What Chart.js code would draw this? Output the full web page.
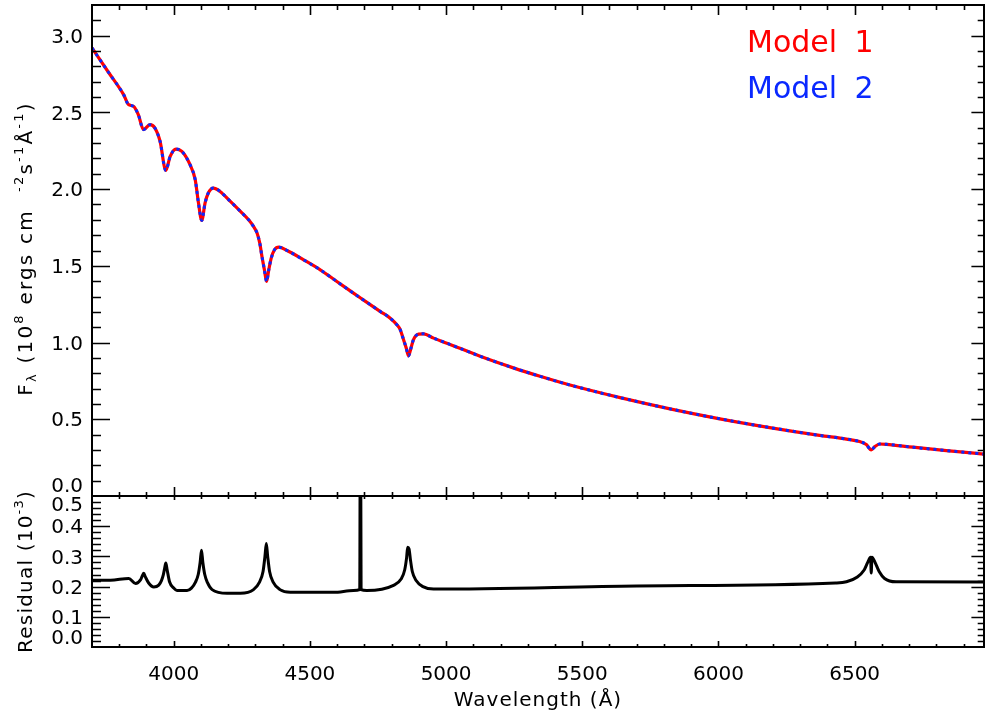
<!DOCTYPE html>
<html>
<head>
<meta charset="utf-8">
<script src="https://cdn.jsdelivr.net/npm/chart.js@4.4.0/dist/chart.umd.min.js"></script>
<style>
  html, body { margin: 0; padding: 0; background: #fff; }
  #wrap { position: relative; width: 985px; height: 719px; }
  #wrap canvas { position: absolute; left: 0; top: 0; }
</style>
</head>
<body>
<div id="wrap">
  <canvas id="residChart" width="985" height="719"></canvas>
  <canvas id="fluxChart" width="985" height="719"></canvas>
</div>
<script>
// wavelength grid (Angstrom) for the model spectra
const fluxWave = [
  3700, 3761, 3816, 3834, 3852, 3870, 3889, 3913, 3931, 3950,
  3971, 3987, 4008, 4030, 4060, 4079, 4091, 4103, 4115, 4127,
  4146, 4170, 4208, 4245, 4275, 4293, 4306, 4316, 4324, 4333,
  4341, 4349, 4358, 4370, 4386, 4416, 4477, 4538, 4599, 4660,
  4692, 4759, 4795, 4820, 4832, 4842, 4854, 4862, 4871, 4880,
  4899, 4917, 4954, 5003, 5125, 5247, 5345, 5455, 5639, 5822,
  6005, 6188, 6371, 6470, 6518, 6543, 6561, 6574, 6592, 6617,
  6714, 6837, 6975
];
// F_lambda, 10^8 ergs cm^-2 s^-1 A^-1
const model1Flux = [
  2.920, 2.760, 2.616, 2.551, 2.540, 2.486, 2.388, 2.420, 2.398, 2.311,
  2.122, 2.213, 2.261, 2.246, 2.159, 2.061, 1.909, 1.796, 1.909, 1.975,
  2.007, 1.985, 1.920, 1.855, 1.800, 1.757, 1.714, 1.648, 1.561, 1.474,
  1.398, 1.474, 1.550, 1.605, 1.622, 1.600, 1.539, 1.474, 1.398, 1.322,
  1.283, 1.202, 1.159, 1.115, 1.083, 1.029, 0.963, 0.913, 0.963, 1.018,
  1.055, 1.057, 1.029, 0.996, 0.911, 0.835, 0.780, 0.723, 0.641, 0.568,
  0.503, 0.446, 0.395, 0.371, 0.355, 0.335, 0.300, 0.322, 0.339, 0.337,
  0.318, 0.296, 0.273
];
const model2Flux = [
  2.920, 2.760, 2.616, 2.551, 2.540, 2.486, 2.388, 2.420, 2.398, 2.311,
  2.122, 2.213, 2.261, 2.246, 2.159, 2.061, 1.909, 1.796, 1.909, 1.975,
  2.007, 1.985, 1.920, 1.855, 1.800, 1.757, 1.714, 1.648, 1.561, 1.474,
  1.398, 1.474, 1.550, 1.605, 1.622, 1.600, 1.539, 1.474, 1.398, 1.322,
  1.283, 1.202, 1.159, 1.115, 1.083, 1.029, 0.963, 0.913, 0.963, 1.018,
  1.055, 1.057, 1.029, 0.996, 0.911, 0.835, 0.780, 0.723, 0.641, 0.568,
  0.503, 0.446, 0.395, 0.371, 0.355, 0.335, 0.300, 0.322, 0.339, 0.337,
  0.318, 0.296, 0.273
];

// residual panel (10^-3)
const residWave = [
  3700, 3768, 3835, 3860, 3878, 3885, 3890, 3896, 3908, 3927,
  3945, 3955, 3962, 3967, 3971, 3976, 3985, 4000, 4012, 4049,
  4065, 4080, 4090, 4097, 4102, 4107, 4114, 4124, 4141, 4196,
  4245, 4293, 4315, 4328, 4335, 4340, 4345, 4352, 4365, 4390,
  4428, 4587, 4660, 4683, 4685.5, 4688, 4709, 4807, 4835, 4848,
  4855, 4859, 4864, 4869, 4876, 4890, 4915, 4954, 5700, 6430,
  6470, 6510, 6535, 6548, 6558.5, 6561, 6563.5, 6575,
  6590, 6610, 6652, 6975
];
const residual = [
  0.221, 0.221, 0.227, 0.210, 0.222, 0.236, 0.244, 0.232, 0.212, 0.199,
  0.205, 0.220, 0.240, 0.262, 0.278, 0.255, 0.215, 0.195, 0.187, 0.187,
  0.195, 0.215, 0.240, 0.280, 0.320, 0.280, 0.240, 0.213, 0.190, 0.178,
  0.178, 0.190, 0.215, 0.250, 0.300, 0.343, 0.300, 0.250, 0.215, 0.190,
  0.181, 0.181, 0.187, 0.190, 0.950, 0.190, 0.187, 0.204, 0.225, 0.255,
  0.295, 0.330, 0.325, 0.290, 0.250, 0.220, 0.200, 0.192, 0.202, 0.212,
  0.216, 0.232, 0.255, 0.280, 0.297, 0.245, 0.297, 0.280,
  0.250, 0.227, 0.216, 0.215
];

const xTickLabels = ['4000', '4500', '5000', '5500', '6000', '6500'];
const fluxTickLabels = ['0.0', '0.5', '1.0', '1.5', '2.0', '2.5', '3.0'];
const residTickLabels = ['0.0', '0.1', '0.2', '0.3', '0.4', '0.5'];

const FONT = '"DejaVu Sans", "Liberation Sans", sans-serif';

const toPoints = (xs, ys) => xs.map((x, i) => ({ x: x, y: ys[i] }));

/**
 * IDL-style box: border, inward ticks on all four sides, y labels
 */
const idlFrame = {
    id: 'idlFrame',
    afterDraw(chart, args, o) {
        const ctx = chart.ctx;
        const a = chart.chartArea;
        const xs = chart.scales.x;
        const ys = chart.scales.y;
        ctx.save();
        ctx.strokeStyle = '#000';
        ctx.lineWidth = 2;
        ctx.strokeRect(a.left, a.top, a.right - a.left, a.bottom - a.top);

        ctx.lineWidth = 1.6;
        ctx.beginPath();
        for (let w = 3800; w < xs.max; w += 100) {
            const px = Math.round(xs.getPixelForValue(w)) + 0.5;
            const major = w % 500 === 0;
            const lb = major ? o.xMajB : o.xMinB;
            const lt = major ? o.xMajT : o.xMinT;
            ctx.moveTo(px, a.bottom); ctx.lineTo(px, a.bottom - lb);
            ctx.moveTo(px, a.top); ctx.lineTo(px, a.top + lt);
        }
        const n = Math.round((ys.max - ys.min) / o.yStep);
        for (let i = 1; i < n; i++) {
            const py = Math.round(ys.getPixelForValue(ys.min + i * o.yStep)) + 0.5;
            const len = i % 5 === 0 ? o.yMaj : o.yMaj / 2;
            ctx.moveTo(a.left, py); ctx.lineTo(a.left + len, py);
            ctx.moveTo(a.right, py); ctx.lineTo(a.right - len * 0.7, py);
        }
        ctx.stroke();

        ctx.fillStyle = '#000';
        ctx.font = '20px ' + FONT;
        ctx.textAlign = 'right';
        ctx.textBaseline = 'middle';
        o.yLabels.forEach(t => {
            const v = parseFloat(t);
            let py = ys.getPixelForValue(v) + 2;
            if (Math.abs(v - ys.min) < 1e-9) py -= o.minShift;
            if (Math.abs(v - ys.max) < 1e-9) py += o.maxShift;
            ctx.fillText(t, a.left - 9, py);
        });

        if (o.xLabels) {
            ctx.textAlign = 'center';
            ctx.textBaseline = 'alphabetic';
            o.xLabels.forEach(t => {
                ctx.fillText(t, xs.getPixelForValue(parseFloat(t)), a.bottom + 33);
            });
        }
        ctx.restore();
    }
};

// text with super/subscripts; vertical = rotated to read bottom-up
function drawRich(ctx, parts, cx, cy, vertical, spacing) {
    const big = '20px ' + FONT;
    const small = '13px ' + FONT;
    ctx.save();
    ctx.letterSpacing = spacing;
    let total = 0;
    parts.forEach(p => {
        ctx.font = p.dy ? small : big;
        p.w = ctx.measureText(p.t).width;
        total += p.w;
    });
    ctx.translate(cx, cy);
    if (vertical) ctx.rotate(-Math.PI / 2);
    ctx.fillStyle = '#000';
    ctx.textAlign = 'left';
    ctx.textBaseline = 'alphabetic';
    let x = -total / 2;
    parts.forEach(p => {
        ctx.font = p.dy ? small : big;
        ctx.fillText(p.t, x, p.dy || 0);
        x += p.w;
    });
    ctx.restore();
}

const fluxDecor = {
    id: 'fluxDecor',
    afterDraw(chart) {
        const ctx = chart.ctx;
        const a = chart.chartArea;
        drawRich(ctx, [
            { t: 'F' }, { t: 'λ', dy: 4 }, { t: ' (10' }, { t: '8', dy: -9 },
            { t: ' ergs cm  ' }, { t: '-2', dy: -9 }, { t: 's' }, { t: '-1', dy: -9 },
            { t: 'Å' }, { t: '-1', dy: -9 }, { t: ')' }
        ], 32, (a.top + a.bottom) / 2 - 2, true, '2.2px');

        ctx.save();
        ctx.font = '30px ' + FONT;
        ctx.wordSpacing = '8px';
        ctx.textAlign = 'left';
        ctx.textBaseline = 'alphabetic';
        ctx.fillStyle = 'rgb(255,0,0)';
        ctx.fillText('Model 1', 747, 52);
        ctx.fillStyle = 'rgb(10,40,255)';
        ctx.fillText('Model 2', 747, 98);
        ctx.restore();
    }
};

const residDecor = {
    id: 'residDecor',
    afterDraw(chart) {
        const ctx = chart.ctx;
        const a = chart.chartArea;
        drawRich(ctx, [
            { t: 'Residual (10' }, { t: '-3', dy: -9 }, { t: ')' }
        ], 32, (a.top + a.bottom) / 2, true, '1.2px');
        drawRich(ctx, [{ t: 'Wavelength (Å)' }], (a.left + a.right) / 2, 706, false, '1px');
    }
};

function panelOptions(padding, yMin, yMax, frameOpts) {
    return {
        responsive: false,
        animation: false,
        devicePixelRatio: 1,
        layout: { padding: padding },
        elements: {
            point: { radius: 0 },
            line: { cubicInterpolationMode: 'monotone' }
        },
        plugins: {
            legend: { display: false },
            tooltip: { enabled: false },
            idlFrame: frameOpts
        },
        scales: {
            x: { type: 'linear', min: 3700, max: 6975, display: false },
            y: { type: 'linear', min: yMin, max: yMax, display: false }
        }
    };
}

new Chart(document.getElementById('fluxChart').getContext('2d'), {
    type: 'line',
    data: {
        datasets: [
            {
                label: 'Model 1',
                data: toPoints(fluxWave, model1Flux),
                borderColor: 'rgb(255,0,0)',
                borderWidth: 3.2,
                order: 2,
                clip: 0
            },
            {
                label: 'Model 2',
                data: toPoints(fluxWave, model2Flux),
                borderColor: 'rgb(10,40,255)',
                borderWidth: 3,
                borderDash: [3, 4],
                order: 1,
                clip: 0
            }
        ]
    },
    options: panelOptions({ left: 92, right: 1, top: 5, bottom: 223 }, 0, 3.2, {
        xMajB: 9, xMinB: 4, xMajT: 10, xMinT: 5,
        yStep: 0.1, yMaj: 18,
        yLabels: fluxTickLabels, minShift: 11, maxShift: 0
    }),
    plugins: [idlFrame, fluxDecor]
});

new Chart(document.getElementById('residChart').getContext('2d'), {
    type: 'line',
    data: {
        datasets: [
            {
                label: 'Residual',
                data: toPoints(residWave, residual),
                borderColor: '#000',
                borderWidth: 3,
                clip: 0
            }
        ]
    },
    options: panelOptions({ left: 92, right: 1, top: 496, bottom: 72 }, 0, 0.5, {
        xMajB: 6, xMinB: 3, xMajT: 4, xMinT: 3,
        yStep: 0.02, yMaj: 18,
        yLabels: residTickLabels, minShift: 10, maxShift: 8,
        xLabels: xTickLabels
    }),
    plugins: [idlFrame, residDecor]
});
</script>
</body>
</html>
